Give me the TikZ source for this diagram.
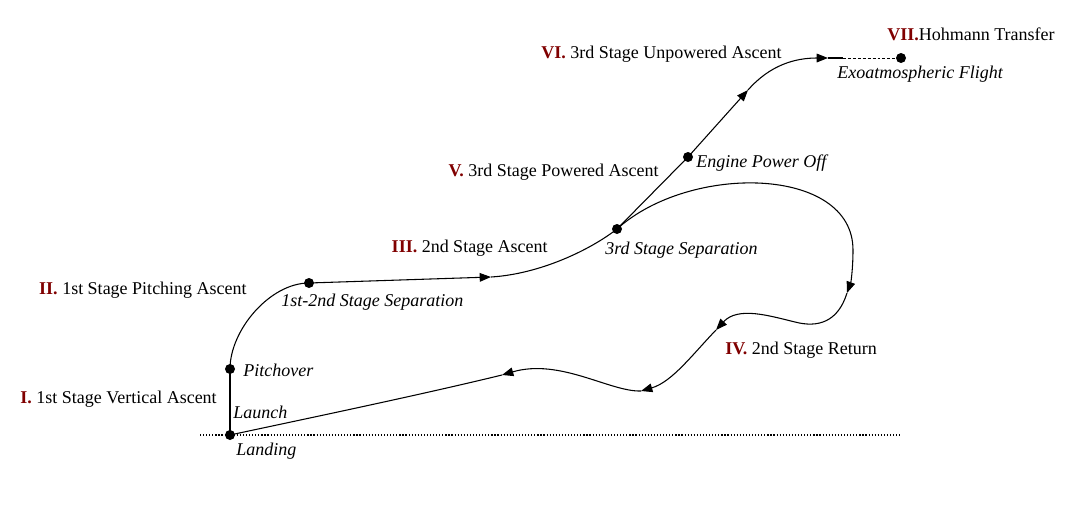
\documentclass[tikz,border=0pt]{standalone}
\usepackage{fontspec}
\setmainfont{Liberation Serif}
\usetikzlibrary{arrows.meta}
\definecolor{numred}{RGB}{128,0,0}
\begin{document}
\begin{tikzpicture}[x=0.75pt,y=-0.75pt,
  traj/.style={line width=0.8pt},
  arr/.style={traj,-{Triangle[length=8.5pt,width=6.5pt]}},
  dot/.style={circle,fill=black,inner sep=0pt,minimum size=7.5pt},
  lbl/.style={inner sep=0pt,font=\fontsize{13.5}{16}\selectfont},
  ilbl/.style={lbl,font=\fontsize{13.5}{16}\selectfont\itshape}]
\useasboundingbox (0,0) rectangle (1065,507);
% ground
\coordinate (g1) at (200,435);
\coordinate (g2) at (900,435);
\draw[line width=0.9pt,dash pattern=on 0.9pt off 1.4pt] (g1) -- (g2);
% points
\node[dot] (L) at (230,435) {};
\node[dot] (P) at (230,369) {};
\node[dot] (S12) at (309,283) {};
\node[dot] (S3) at (617,229) {};
\node[dot] (E) at (688,157) {};
\node[dot] (X) at (901,58) {};
\coordinate (A1) at (491,277);
\coordinate (A2) at (748,90);
\coordinate (A3) at (828,58);
\coordinate (T) at (843,58);
\coordinate (A4) at (847,293);
\coordinate (W) at (795,322);
\coordinate (A5) at (716,330);
\coordinate (A6) at (641,391);
\coordinate (A7) at (502,375);
% ascent
\draw[traj] (L.center) -- (P.center);
\draw[traj] (P.center) .. controls (230,330) and (270,283) .. (S12.center);
\draw[arr] (S12.center) -- (A1);
\draw[traj] (A1) .. controls (540,274) and (590,250) .. (S3.center);
\draw[traj] (S3.center) -- (E.center);
\draw[arr] (E.center) -- (A2);
\draw[arr] (A2) .. controls (770,65) and (795,58) .. (A3);
\draw[traj] (A3) -- (T);
\draw[line width=0.6pt,dash pattern=on 2.2pt off 1.5pt] (T) -- (X.center);
% return
\draw[arr] (S3.center) .. controls (690,163) and (853,166) .. (853,250)
   .. controls (853,268) and (851,282) .. (A4);
\draw[traj] (A4) .. controls (838,322) and (818,328) .. (W);
\draw[arr] (W) .. controls (770,316) and (738,306) .. (A5);
\draw[arr] (A5) .. controls (692,355) and (672,382) .. (A6);
\draw[arr] (A6) .. controls (610,392) and (560,358) .. (A7);
\draw[traj] (A7) .. controls (420,395) and (300,420) .. (L.center);
% labels
\node[lbl,anchor=east] (l1) at (217,399) {\textcolor{numred}{\bfseries I.} 1st Stage Vertical Ascent};
\node[lbl,anchor=east] (l2) at (247,290) {\textcolor{numred}{\bfseries II.} 1st Stage Pitching Ascent};
\node[lbl,anchor=east] (l3) at (548,248) {\textcolor{numred}{\bfseries III.} 2nd Stage Ascent};
\node[lbl,anchor=west] (l4) at (725,350) {\textcolor{numred}{\bfseries IV.} 2nd Stage Return};
\node[lbl,anchor=east] (l5) at (659,172) {\textcolor{numred}{\bfseries V.} 3rd Stage Powered Ascent};
\node[lbl,anchor=east] (l6) at (782,54) {\textcolor{numred}{\bfseries VI.} 3rd Stage Unpowered Ascent};
\node[lbl,anchor=west] (l7) at (887,34) {\textcolor{numred}{\bfseries VII.}Hohmann Transfer};
\node[ilbl,anchor=west] (tp) at (243,370) {Pitchover};
\node[ilbl,anchor=west] (tl) at (233,412) {Launch};
\node[ilbl,anchor=west] (tld) at (236,451) {Landing};
\node[ilbl,anchor=west] (ts12) at (281,302) {1st-2nd Stage Separation};
\node[ilbl,anchor=west] (ts3) at (605,250) {3rd Stage Separation};
\node[ilbl,anchor=west] (te) at (696,163) {Engine Power Off};
\node[ilbl,anchor=west] (tx) at (837,74) {Exoatmospheric Flight};
\end{tikzpicture}
\end{document}
